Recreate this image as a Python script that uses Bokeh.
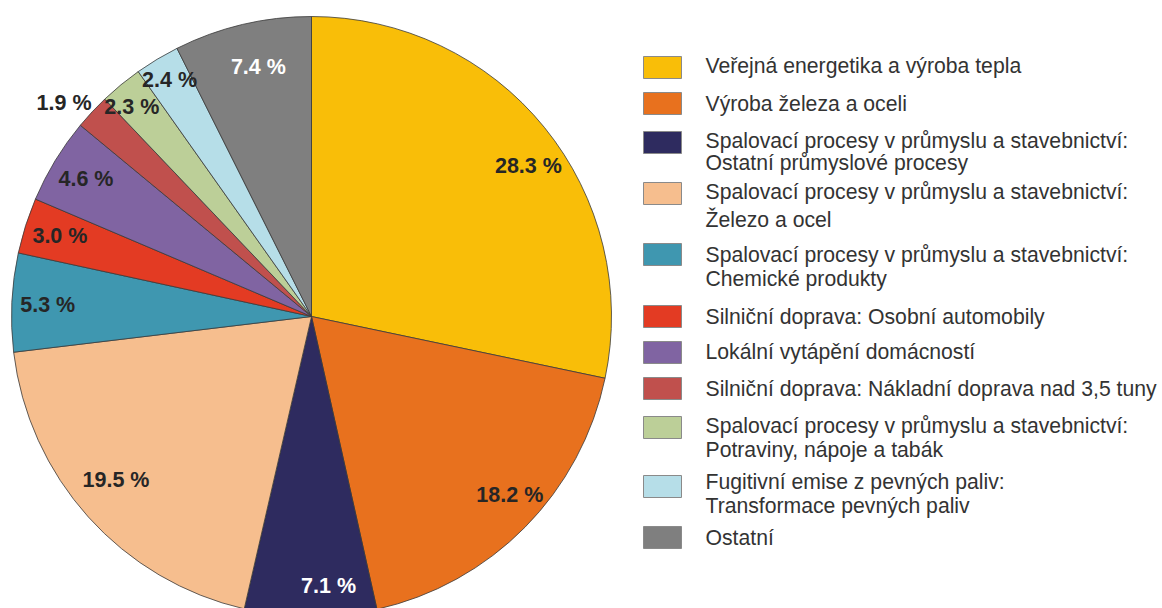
import math
from bokeh.plotting import figure
from bokeh.models import ColumnDataSource, Range1d
from bokeh.core.properties import value
from bokeh.embed import file_html
from bokeh.resources import INLINE

# ---- data ----
categories = [
    "Veřejná energetika a výroba tepla",
    "Výroba železa a oceli",
    "Spalovací procesy v průmyslu a stavebnictví:\nOstatní průmyslové procesy",
    "Spalovací procesy v průmyslu a stavebnictví:\nŽelezo a ocel",
    "Spalovací procesy v průmyslu a stavebnictví:\nChemické produkty",
    "Silniční doprava: Osobní automobily",
    "Lokální vytápění domácností",
    "Silniční doprava: Nákladní doprava nad 3,5 tuny",
    "Spalovací procesy v průmyslu a stavebnictví:\nPotraviny, nápoje a tabák",
    "Fugitivní emise z pevných paliv:\nTransformace pevných paliv",
    "Ostatní",
]
shares = [28.3, 18.2, 7.1, 19.5, 5.3, 3.0, 4.6, 1.9, 2.3, 2.4, 7.4]
colors = ["#F9BE08", "#E8711E", "#2E2B5F", "#F6BE8E", "#3F97B0", "#E33B23",
          "#8064A2", "#C0504D", "#BCCF98", "#B6DEE8", "#7F7F7F"]
label_colors = ["#262626", "#262626", "#FFFFFF", "#262626", "#262626", "#262626",
                "#262626", "#262626", "#262626", "#262626", "#FFFFFF"]

# ---- layout ----
W, H = 1162, 608
CX, CY, R = 311, H - 316, 300
label_r = [0.88, 0.89, 0.90, 0.85, 0.88, 0.88, 0.88, 1.09, 0.92, 0.92, 0.85]
label_da = [4.3, -2.6, -3.8, 2.0, -0.3, 0.0, 0.0, -2.2, -1.2, 0.0, 1.3]  # deg, clockwise

total = sum(shares)
starts, ends, lx, ly = [], [], [], []
cum = 0.0
for i, v in enumerate(shares):
    a0 = 90 - cum / total * 360
    a1 = 90 - (cum + v) / total * 360
    starts.append(a1)
    ends.append(a0)
    mid = math.radians((a0 + a1) / 2 - label_da[i])
    lx.append(CX + R * label_r[i] * math.cos(mid))
    ly.append(CY + R * label_r[i] * math.sin(mid))
    cum += v

src = ColumnDataSource(dict(
    start=starts, end=ends, color=colors,
    lx=lx, ly=ly, lab=[f"{v:.1f} %" for v in shares], lc=label_colors,
))

p = figure(width=W, height=H, output_backend="svg", toolbar_location=None,
           x_range=Range1d(0, W), y_range=Range1d(0, H), min_border=0)
p.axis.visible = False
p.grid.visible = False
p.outline_line_color = None
p.background_fill_color = "white"

p.wedge(x=CX, y=CY, radius=R, start_angle="start", end_angle="end",
        start_angle_units="deg", end_angle_units="deg",
        fill_color="color", line_color="#3a3a3a", line_width=0.8, source=src)

p.text(x="lx", y="ly", text="lab", text_color="lc", source=src,
       text_font=value("Liberation Sans"), text_font_style="bold",
       text_font_size="21.5px", text_align="center", text_baseline="middle")

# legend (page y positions converted to data coordinates)
row_y_page = [67, 103, 142, 193, 254, 316, 352, 388, 427, 486, 537]
text_y_page = [[65], [103], [140, 162], [191, 219], [254, 278], [316], [351], [388],
               [425, 449], [481, 505], [537]]
sq = dict(x=[], y=[], c=[])
tx = dict(x=[], y=[], t=[])
for i, cat in enumerate(categories):
    sq["x"].append(662)
    sq["y"].append(H - row_y_page[i])
    sq["c"].append(colors[i])
    for line, yy in zip(cat.split("\n"), text_y_page[i]):
        tx["x"].append(705)
        tx["y"].append(H - yy)
        tx["t"].append(line)

p.rect(x="x", y="y", width=38, height=22, fill_color="c", line_color="#8a8a8a",
       line_width=1, source=ColumnDataSource(sq))
p.text(x="x", y="y", text="t", source=ColumnDataSource(tx), text_color="#333333",
       text_font=value("Liberation Sans"), text_font_size="21.2px",
       text_baseline="middle", text_align="left")

open("out.html", "w").write(file_html(p, INLINE))
